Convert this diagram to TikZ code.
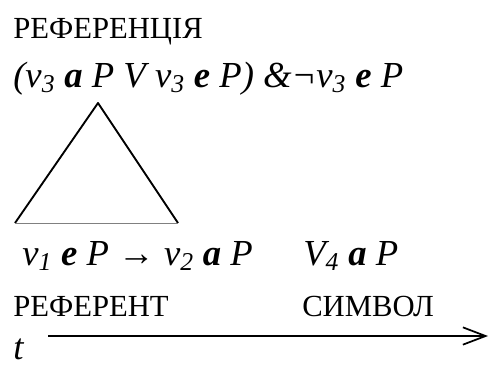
\documentclass[tikz,border=0pt]{standalone}
\usepackage{fontspec}
\setmainfont{LiberationSerif}[
    Extension=.ttf,
    UprightFont=*-Regular,
    ItalicFont=*-Italic,
    BoldFont=*-Bold,
    BoldItalicFont=*-BoldItalic]
\usetikzlibrary{arrows.meta, positioning}
\newcommand{\sbs}[1]{\textsubscript{\itshape #1}}
\begin{document}
\begin{tikzpicture}[
    x=0.75pt, y=-0.75pt,
    lbl/.style={font=\fontsize{23}{27}\selectfont, inner sep=0pt, anchor=base west},
    frm/.style={font=\fontsize{27.5}{32}\selectfont\itshape, inner sep=0pt, anchor=base west},
    side/.style={line width=1.4pt, line join=round},
    arrow/.style={-{Straight Barb[length=17pt, width=13pt]}, line width=1.3pt},
]
    \useasboundingbox (0,0) rectangle (489,365);

    % Reference (top)
    \node[lbl] (refhead) at (13, 38) {РЕФЕРЕНЦІЯ};
    \node[frm] (refform) at (13, 87) {(v\sbs{3} {\bfseries a} P V v\sbs{3} {\bfseries e} P) \&¬v\sbs{3} {\bfseries e} P};

    % Triangle
    \coordinate (apex) at (98, 103);
    \coordinate (left) at (15, 223);
    \coordinate (right) at (178, 223);
    \draw[side] (left) -- (apex) -- (right);
    \draw[gray, line width=0.6pt] (left) -- (right);

    % Referent and symbol
    \node[frm] (refent) at (22, 265) {v\sbs{1} {\bfseries e} P → v\sbs{2} {\bfseries a} P};
    \node[frm] (symform) at (303, 265) {V\sbs{4} {\bfseries a} P};
    \node[lbl] (referent) at (13, 316) {РЕФЕРЕНТ};
    \node[lbl] (symbol) at (302, 316) {СИМВОЛ};

    % Time axis
    \node[frm] (time) at (13, 359) {t};
    \coordinate (tstart) at (48, 336);
    \coordinate (tend) at (488, 336);
    \draw[arrow] (tstart) -- (tend);
\end{tikzpicture}
\end{document}
